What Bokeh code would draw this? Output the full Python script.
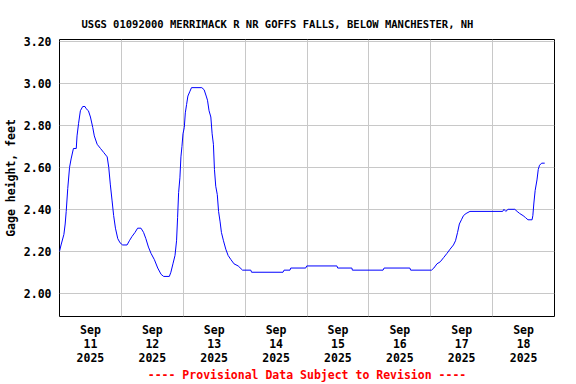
from bokeh.plotting import figure
from bokeh.models import FixedTicker, Range1d, PrintfTickFormatter, Title
from bokeh.embed import file_html
from bokeh.resources import INLINE

# ---- data (hours since Sep 11 2025 00:00, gage height in feet) ----
hours_since_sep11 = [
    0, 0.6, 1.7, 2.2, 2.6, 3.2, 3.9, 4.5, 5.4, 6.5, 6.8, 7.4, 8.1, 9.0, 9.9, 10.3,
    11.2, 12.0, 12.9, 13.5, 14.6, 15.9, 17.2, 18.5, 19.1, 19.7, 20.4, 21.0, 21.7,
    22.6, 23.5, 24.5, 26.2, 27.1, 28.1, 29.3, 30.3, 31.6, 32.6, 33.5, 34.5, 35.5,
    36.8, 38.1, 39.4, 40.4, 42.6, 43.2, 44.0, 44.8, 45.4, 45.8, 46.2, 46.7, 47.1,
    47.5, 47.9, 48.4, 48.8, 49.3, 49.8, 50.5, 51.2, 55.2, 56.1, 56.9, 57.4, 58.0,
    58.7, 59.2, 59.7, 60.1, 60.6, 61.2, 61.7, 62.3, 62.8, 63.6, 64.5, 65.4, 66.5,
    67.7, 69.3, 71.0, 74.2, 74.5, 86.7, 87.1, 89.4, 89.7, 95.5, 95.9, 107.6, 107.9,
    113.4, 113.6, 125.5, 125.9, 135.9, 136.2, 144.3, 145.2, 146.4, 147.7, 149.0,
    150.3, 151.5, 152.8, 153.6, 154.4, 155.1, 155.9, 156.7, 157.7, 159.2, 171.9,
    172.4, 173.1, 174.0, 176.6, 177.5, 178.5, 179.8, 180.8, 181.7, 183.3, 183.6,
    184.0, 184.5, 185.2, 185.7, 186.2, 187.0, 188.2,
]
gage_height_ft = [
    2.20, 2.23, 2.28, 2.33, 2.39, 2.50, 2.60, 2.64, 2.69, 2.69, 2.75, 2.81, 2.87, 2.89, 2.89, 2.88,
    2.87, 2.84, 2.79, 2.75, 2.71, 2.69, 2.67, 2.65, 2.60, 2.52, 2.44, 2.37, 2.31,
    2.26, 2.24, 2.23, 2.23, 2.25, 2.27, 2.29, 2.31, 2.31, 2.29, 2.26, 2.22, 2.19,
    2.16, 2.12, 2.09, 2.08, 2.08, 2.10, 2.14, 2.18, 2.25, 2.36, 2.48, 2.55, 2.65,
    2.70, 2.76, 2.79, 2.86, 2.90, 2.94, 2.96, 2.98, 2.98, 2.97, 2.94, 2.92, 2.87,
    2.84, 2.76, 2.71, 2.59, 2.51, 2.47, 2.39, 2.34, 2.29, 2.25, 2.21, 2.18, 2.16,
    2.14, 2.13, 2.11, 2.11, 2.10, 2.10, 2.11, 2.11, 2.12, 2.12, 2.13, 2.13, 2.12,
    2.12, 2.11, 2.11, 2.12, 2.12, 2.11, 2.11, 2.12, 2.14, 2.15, 2.17,
    2.19, 2.21, 2.23, 2.25, 2.29, 2.33, 2.35, 2.37, 2.38, 2.39, 2.39,
    2.40, 2.39, 2.40, 2.40, 2.39, 2.38, 2.37, 2.36, 2.35, 2.35, 2.37,
    2.43, 2.49, 2.54, 2.59, 2.61, 2.62, 2.62,
]
day_labels = ["Sep\n11\n2025", "Sep\n12\n2025", "Sep\n13\n2025", "Sep\n14\n2025",
              "Sep\n15\n2025", "Sep\n16\n2025", "Sep\n17\n2025", "Sep\n18\n2025"]
label_hours = [12, 36, 60, 84, 108, 132, 156, 180]
midnight_hours = [24, 48, 72, 96, 120, 144, 168]
y_ticks = [2.0, 2.2, 2.4, 2.6, 2.8, 3.0, 3.2]

title_text = "USGS 01092000 MERRIMACK R NR GOFFS FALLS, BELOW MANCHESTER, NH"
FONT = "DejaVu Sans Mono"

p = figure(width=576, height=384, output_backend="svg", toolbar_location=None,
           x_range=Range1d(0, 192), y_range=Range1d(1.889, 3.2095),
           min_border_left=58, min_border_right=22, min_border_top=39, min_border_bottom=68)
p.title = Title(text=title_text, align="left", offset=22, text_font=FONT,
                text_font_size="10.5px", text_font_style="bold", text_color="black", standoff=19)

p.line(hours_since_sep11, gage_height_ft, line_color="#0000ff", line_width=1)

p.background_fill_color = "white"
p.border_fill_color = "white"
p.outline_line_color = "black"
p.outline_line_width = 1

# x axis
p.xaxis.ticker = FixedTicker(ticks=label_hours)
p.xaxis.major_label_overrides = {h: lab for h, lab in zip(label_hours, day_labels)}
p.xaxis.major_label_text_font = FONT
p.xaxis.major_label_text_font_size = "11.5px"
p.xaxis.major_label_text_font_style = "bold"
p.xaxis.major_label_text_color = "black"
p.xaxis.major_label_text_line_height = 1.0
p.xaxis.major_label_standoff = 6
p.xaxis.major_tick_line_color = None
p.xaxis.major_tick_in = 0
p.xaxis.major_tick_out = 0
p.xaxis.minor_tick_line_color = None
p.xaxis.axis_line_color = None
p.xaxis.axis_label = "---- Provisional Data Subject to Revision ----"
p.xaxis.axis_label_text_color = "#ff0000"
p.xaxis.axis_label_text_font = FONT
p.xaxis.axis_label_text_font_size = "11.5px"
p.xaxis.axis_label_text_font_style = "bold"
p.xaxis.axis_label_standoff = 0

# y axis
p.yaxis.ticker = FixedTicker(ticks=y_ticks)
p.yaxis.formatter = PrintfTickFormatter(format="%.2f")
p.yaxis.major_label_text_font = FONT
p.yaxis.major_label_text_font_size = "11.5px"
p.yaxis.major_label_text_font_style = "bold"
p.yaxis.major_label_text_color = "black"
p.yaxis.major_label_standoff = 8
p.yaxis.major_tick_line_color = None
p.yaxis.major_tick_in = 0
p.yaxis.major_tick_out = 0
p.yaxis.minor_tick_line_color = None
p.yaxis.axis_line_color = None
p.yaxis.axis_label = "Gage height, feet"
p.yaxis.axis_label_text_font = FONT
p.yaxis.axis_label_text_font_size = "11.5px"
p.yaxis.axis_label_text_font_style = "bold"
p.yaxis.axis_label_text_color = "black"
p.yaxis.axis_label_standoff = 3

# grids
p.xgrid.ticker = FixedTicker(ticks=midnight_hours)
p.xgrid.grid_line_color = "#c8c8c8"
p.ygrid.grid_line_color = "#c8c8c8"

open("out.html", "w").write(file_html(p, INLINE))
